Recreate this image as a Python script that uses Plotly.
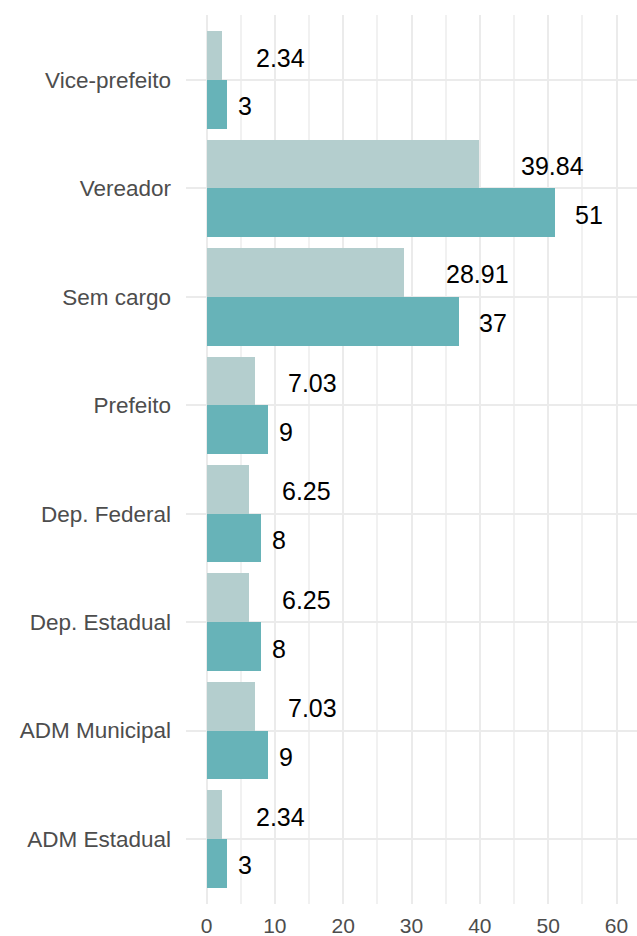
import plotly.graph_objects as go

# Categories listed bottom-to-top
categories = ["ADM Estadual", "ADM Municipal", "Dep. Estadual", "Dep. Federal",
              "Prefeito", "Sem cargo", "Vereador", "Vice-prefeito"]
percent = [2.34, 7.03, 6.25, 6.25, 7.03, 28.91, 39.84, 2.34]
count = [3, 9, 8, 8, 9, 37, 51, 3]

LIGHT = "#b4cece"
DARK = "#67b3b8"
BAR_W = 0.45
LABEL_SIZE = 25
FONT = "Liberation Sans, Arial, Helvetica, sans-serif"

idx = list(range(len(categories)))
y_pct = [i + BAR_W / 2 for i in idx]
y_cnt = [i - BAR_W / 2 for i in idx]

fig = go.Figure()
fig.add_trace(go.Bar(x=percent, y=y_pct, orientation="h", width=BAR_W,
                     marker=dict(color=LIGHT, line=dict(width=0)),
                     showlegend=False, hoverinfo="skip"))
fig.add_trace(go.Bar(x=count, y=y_cnt, orientation="h", width=BAR_W,
                     marker=dict(color=DARK, line=dict(width=0)),
                     showlegend=False, hoverinfo="skip"))


def text_width(s, size):
    return sum(0.556 if ch.isdigit() else 0.278 for ch in s) * size


def fmt(v):
    return f"{v:g}" if float(v).is_integer() else f"{v:.2f}"


annotations = []
for xs, ys in ((percent, y_pct), (count, y_cnt)):
    for v, yy in zip(xs, ys):
        s = fmt(v)
        annotations.append(dict(
            x=v, y=yy, xref="x", yref="y", text=s, showarrow=False,
            xanchor="left", yanchor="middle",
            xshift=0.64 * text_width(s, LABEL_SIZE), yshift=-2,
            font=dict(size=LABEL_SIZE, color="black", family=FONT)))

fig.update_layout(
    width=637, height=936,
    margin=dict(l=186, r=0, t=15, b=32),
    plot_bgcolor="white", paper_bgcolor="white",
    bargap=0, barmode="overlay",
    annotations=annotations,
    font=dict(family=FONT),
)
fig.update_xaxes(
    range=[-3, 63], tickvals=[0, 10, 20, 30, 40, 50, 60],
    showgrid=True, gridcolor="#ebebeb", gridwidth=2,
    minor=dict(dtick=5, tick0=0, showgrid=True, gridcolor="#f1f1f1", gridwidth=1.5),
    zeroline=False, showline=False, ticks="",
    tickfont=dict(size=21, color="#4d4d4d", family=FONT),
    ticklabelstandoff=7, automargin=False,
)
fig.update_yaxes(
    range=[-0.6, 7.6], tickvals=idx, ticktext=categories,
    showgrid=True, gridcolor="#ebebeb", gridwidth=2,
    zeroline=False, showline=False, ticks="",
    tickfont=dict(size=22.5, color="#4d4d4d", family=FONT),
    ticklabelstandoff=14, automargin=False,
)

fig.write_html("out.html")
